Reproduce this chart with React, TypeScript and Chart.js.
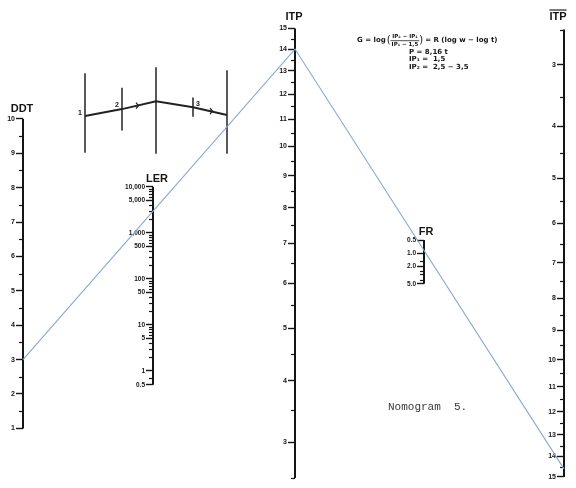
import React, { useEffect, useRef } from 'react';
import { Chart, Scale, registerables } from 'chart.js';

// ---------------- DATA ----------------
const ddtTicks = [1, 2, 3, 4, 5, 6, 7, 8, 9, 10];
const ddtMinorTicks = [1.5, 2.5, 3.5, 4.5, 5.5, 6.5, 7.5, 8.5, 9.5];

const lerTicks = [0.5, 1, 5, 10, 50, 100, 500, 1000, 5000, 10000];
const lerMinorTicks = [
  0.7, 2, 3, 4, 6, 7, 8, 9, 20, 30, 40, 60, 70, 80, 90,
  200, 300, 400, 600, 700, 800, 900, 2000, 3000, 4000, 6000, 7000, 8000, 9000,
];

const itpTicks = [3, 4, 5, 6, 7, 8, 9, 10, 11, 12, 13, 14, 15];
const itpMinorTicks = [2.5, 3.5, 4.5, 5.5, 6.5, 7.5, 8.5, 9.5, 10.5, 11.5, 12.5, 13.5, 14.5];

const frTicks = [0.5, 1, 2, 5];
const frMinorTicks = [1.5, 2.5, 3, 4];

// the reading drawn across the nomogram (axis id, value read on that axis)
const readingAxes = ['ddt', 'itp', 'itpBar'];
const readingValues = [3, 14, 14.6];

const formulaLead = 'G = log';
const formulaNumerator = 'IP\u2082 \u2212 IP\u2081';
const formulaDenominator = 'IP\u2081 \u2212 1,5';
const formulaTail = '= R (log w \u2212 log t)';
const formulaNotes = ['P = 8,16 t', 'IP\u2081 =  1,5', 'IP\u2082 =  2,5 \u2212 3,5'];
const captionText = 'Nomogram  5.';

// ---------------- LAYOUT / STYLE ----------------
const W = 576;
const H = 488;
const INK = '#151515';
const LINE_BLUE = '#86a8d6';
const SANS = '"Liberation Sans", Arial, sans-serif';

// small hand sketch at the top left (frame units)
const sketchBars = [
  [85, 68, 150],
  [122, 83, 127],
  [156, 62, 151],
  [193, 93, 113],
  [227, 65, 151],
];
const sketchPath = [
  [85, 112],
  [122, 105],
  [156, 97],
  [193, 103],
  [227, 111],
];
const sketchArrows = [
  [137, 101.5],
  [211, 107],
];
const sketchLabels = [
  ['1', 80, 109],
  ['2', 117, 101],
  ['3', 198, 100],
];

Chart.register(...registerables);

class NomoScale extends Scale {
  static id = 'nomo';
  static defaults = {};

  determineDataLimits() {
    const o: any = this.options;
    this.min = o.min;
    this.max = o.max;
  }
  buildTicks() {
    const o: any = this.options;
    return (o.majorTicks || []).map((v: number) => ({ value: v }));
  }
  tf(v: number) {
    const o: any = this.options;
    if (o.mapping === 'log') return Math.log10(v);
    if (o.mapping === 'logShift') return Math.log10(v + o.shift);
    return v;
  }
  itf(u: number) {
    const o: any = this.options;
    if (o.mapping === 'log') return Math.pow(10, u);
    if (o.mapping === 'logShift') return Math.pow(10, u) - o.shift;
    return u;
  }
  frameY(v: number) {
    const o: any = this.options;
    const a = this.tf(o.min);
    const b = this.tf(o.max);
    const t = (this.tf(v) - a) / (b - a);
    return o.span[0] + t * (o.span[1] - o.span[0]);
  }
  getPixelForValue(v: number) {
    const o: any = this.options;
    return (this.chart.scales[o.frameAxis] as any).getPixelForValue(this.frameY(v));
  }
  getPixelForTick(i: number) {
    const t = this.ticks[i];
    return t ? this.getPixelForValue(t.value) : NaN;
  }
  getValueForPixel(p: number) {
    const o: any = this.options;
    const fy = (this.chart.scales[o.frameAxis] as any).getValueForPixel(p);
    const t = (fy - o.span[0]) / (o.span[1] - o.span[0]);
    const a = this.tf(o.min);
    const b = this.tf(o.max);
    return this.itf(a + t * (b - a));
  }
  axisX() {
    const pos: any = this.options.position;
    const id = Object.keys(pos)[0];
    return (this.chart.scales[id] as any).getPixelForValue(pos[id]);
  }
  drawBorder() {
    const o: any = this.options;
    const ctx = this.ctx;
    const x = this.axisX();
    const y0 = this.getPixelForValue(o.min);
    const y1 = this.getPixelForValue(o.max);
    ctx.save();
    ctx.strokeStyle = o.axisColor;
    ctx.lineWidth = o.axisWidth;
    ctx.beginPath();
    ctx.moveTo(x, y0);
    ctx.lineTo(x, y1);
    ctx.stroke();
    ctx.lineWidth = o.minorWidth;
    for (const v of o.minorTicks || []) {
      const y = Math.round(this.getPixelForValue(v)) + 0.5;
      ctx.beginPath();
      ctx.moveTo(x, y);
      ctx.lineTo(x - o.minorLength, y);
      ctx.stroke();
    }
    ctx.restore();
  }
  drawLabels(area: any) {
    const o: any = this.options;
    const ctx = this.ctx;
    ctx.save();
    ctx.translate(-(o.labelGap || 0), 0);
    super.drawLabels(area);
    ctx.restore();
  }
}
Chart.register(NomoScale as any);

const fmtThousands = (v: number) =>
  v >= 1000 ? String(v).replace(/\B(?=(\d{3})+(?!\d))/g, ',') : String(v);

function nomoAxis(xPos: number, extra: any) {
  return {
    type: 'nomo',
    axis: 'y',
    position: { x: xPos },
    frameAxis: 'frame',
    axisColor: INK,
    axisWidth: 2,
    minorWidth: 1.2,
    minorLength: 4,
    labelGap: 8,
    grid: {
      display: true,
      drawOnChartArea: false,
      drawTicks: true,
      tickLength: 7,
      tickWidth: 1.4,
      tickColor: INK,
    },
    border: { display: false },
    ticks: {
      autoSkip: false,
      color: INK,
      font: { family: SANS, size: 7, weight: 'bold' },
      callback: (v: number) => String(v),
    },
    ...extra,
  };
}

const axisTitles = [
  { axis: 'ddt', text: 'DDT', dx: -1, gap: 10, overline: false },
  { axis: 'ler', text: 'LER', dx: 4, gap: 8, overline: false },
  { axis: 'itp', text: 'ITP', dx: -1, gap: 12, overline: false },
  { axis: 'fr', text: 'FR', dx: 2, gap: 8, overline: false },
  { axis: 'itpBar', text: 'ITP', dx: -6, gap: 13, overline: true },
];

const decorPlugin = {
  id: 'nomoDecor',
  afterDraw(chart: any) {
    const ctx: CanvasRenderingContext2D = chart.ctx;
    const X = (v: number) => chart.scales.x.getPixelForValue(v);
    const Y = (v: number) => chart.scales.frame.getPixelForValue(v);
    ctx.save();

    // sketch
    ctx.strokeStyle = '#222';
    ctx.lineWidth = 1.5;
    for (const [x, ya, yb] of sketchBars) {
      ctx.beginPath();
      ctx.moveTo(X(x), Y(ya));
      ctx.lineTo(X(x), Y(yb));
      ctx.stroke();
    }
    ctx.lineWidth = 2;
    ctx.beginPath();
    sketchPath.forEach(([x, y], i) => (i ? ctx.lineTo(X(x), Y(y)) : ctx.moveTo(X(x), Y(y))));
    ctx.stroke();
    ctx.lineWidth = 1.3;
    for (const [x, y] of sketchArrows) {
      ctx.beginPath();
      ctx.moveTo(X(x) - 1, Y(y) - 3);
      ctx.lineTo(X(x) + 1.5, Y(y));
      ctx.lineTo(X(x) - 1, Y(y) + 3);
      ctx.stroke();
    }
    ctx.fillStyle = INK;
    ctx.font = `bold 7px ${SANS}`;
    ctx.textAlign = 'center';
    ctx.textBaseline = 'middle';
    for (const [t, x, y] of sketchLabels as any) ctx.fillText(t, X(x), Y(y));

    // axis titles
    ctx.font = `bold 11px ${SANS}`;
    ctx.textAlign = 'center';
    ctx.textBaseline = 'middle';
    for (const t of axisTitles) {
      const s = chart.scales[t.axis];
      const o = s.options;
      const top = Math.min(s.getPixelForValue(o.min), s.getPixelForValue(o.max));
      const cx = s.axisX() + t.dx;
      const cy = top - t.gap;
      ctx.fillText(t.text, cx, cy);
      if (t.overline) {
        const w = ctx.measureText(t.text).width;
        ctx.lineWidth = 1.2;
        ctx.beginPath();
        ctx.moveTo(cx - w / 2, cy - 6.5);
        ctx.lineTo(cx + w / 2, cy - 6.5);
        ctx.stroke();
      }
    }

    // formula
    ctx.textAlign = 'left';
    ctx.textBaseline = 'middle';
    const fy = Y(34);
    let fx = X(357);
    ctx.font = `bold 7px "DejaVu Sans", ${SANS}`;
    ctx.fillText(formulaLead, fx, fy);
    fx += ctx.measureText(formulaLead).width + 1;
    ctx.font = `10px "DejaVu Sans", ${SANS}`;
    ctx.fillText('(', fx, fy);
    fx += ctx.measureText('(').width;
    ctx.font = `bold 5.5px "DejaVu Sans", ${SANS}`;
    const fw = Math.max(ctx.measureText(formulaNumerator).width, ctx.measureText(formulaDenominator).width) + 2;
    ctx.textAlign = 'center';
    ctx.fillText(formulaNumerator, fx + fw / 2, fy - 4);
    ctx.fillText(formulaDenominator, fx + fw / 2, fy + 4.5);
    ctx.lineWidth = 0.8;
    ctx.beginPath();
    ctx.moveTo(fx, fy + 0.5);
    ctx.lineTo(fx + fw, fy + 0.5);
    ctx.stroke();
    fx += fw;
    ctx.textAlign = 'left';
    ctx.font = `10px "DejaVu Sans", ${SANS}`;
    ctx.fillText(')', fx, fy);
    fx += ctx.measureText(')').width + 2;
    ctx.font = `bold 7px "DejaVu Sans", ${SANS}`;
    ctx.fillText(formulaTail, fx, fy);
    formulaNotes.forEach((line, i) => ctx.fillText(line, X(409), Y(46 + i * 8)));

    // caption
    ctx.fillStyle = '#3a3a3a';
    ctx.font = `11px "Liberation Mono", "DejaVu Sans Mono", monospace`;
    ctx.textAlign = 'left';
    ctx.fillText(captionText, X(388), Y(412));

    ctx.restore();
  },
};

const readingPlugin = {
  id: 'readingLine',
  afterDraw(chart: any) {
    const ctx: CanvasRenderingContext2D = chart.ctx;
    const pts = readingAxes.map((id, i) => {
      const s = chart.scales[id];
      return [s.axisX(), s.getPixelForValue(readingValues[i])];
    });
    ctx.save();
    ctx.strokeStyle = LINE_BLUE;
    ctx.lineWidth = 1.1;
    ctx.beginPath();
    pts.forEach(([x, y], i) => (i ? ctx.lineTo(x, y) : ctx.moveTo(x, y)));
    ctx.stroke();
    ctx.restore();
  },
};

export default function App() {
  const ref = useRef<HTMLCanvasElement>(null);
  useEffect(() => {
    const chart = new Chart(ref.current as HTMLCanvasElement, {
      type: 'scatter',
      data: { datasets: [] },
      options: {
        responsive: false,
        animation: false,
        layout: { padding: 0 },
        plugins: { legend: { display: false }, tooltip: { enabled: false } },
        scales: {
          x: { type: 'linear', min: 0, max: W, display: false },
          frame: { type: 'linear', axis: 'y', min: 0, max: H, reverse: true, display: false },
          ddt: nomoAxis(23, {
            mapping: 'linear', min: 1, max: 10, span: [434, 115],
            majorTicks: ddtTicks, minorTicks: ddtMinorTicks,
          }),
          ler: nomoAxis(153, {
            mapping: 'log', min: 0.5, max: 10000, span: [389, 185],
            majorTicks: lerTicks, minorTicks: lerMinorTicks,
            ticks: {
              autoSkip: false, color: INK,
              font: { family: SANS, size: 6.5, weight: 'bold' },
              callback: (v: number) => fmtThousands(v),
            },
          }),
          itp: nomoAxis(295, {
            mapping: 'logShift', shift: 2, min: 2.5, max: 15, span: [485, 22],
            majorTicks: itpTicks, minorTicks: itpMinorTicks,
          }),
          fr: nomoAxis(424, {
            mapping: 'log', min: 0.5, max: 5, span: [240, 285],
            majorTicks: frTicks, minorTicks: frMinorTicks,
            ticks: {
              autoSkip: false, color: INK,
              font: { family: SANS, size: 6.5, weight: 'bold' },
              callback: (v: number) => v.toFixed(1),
            },
          }),
          itpBar: nomoAxis(564, {
            mapping: 'logShift', shift: 2, min: 2.5, max: 15, span: [23, 484],
            majorTicks: itpTicks, minorTicks: itpMinorTicks,
          }),
        },
      } as any,
      plugins: [decorPlugin, readingPlugin],
    });
    return () => chart.destroy();
  }, []);
  return (
    <div style={{ position: 'absolute', left: 0, top: 0, width: W, height: H, background: '#fff' }}>
      <canvas ref={ref} width={W} height={H} style={{ display: 'block' }} />
    </div>
  );
}
